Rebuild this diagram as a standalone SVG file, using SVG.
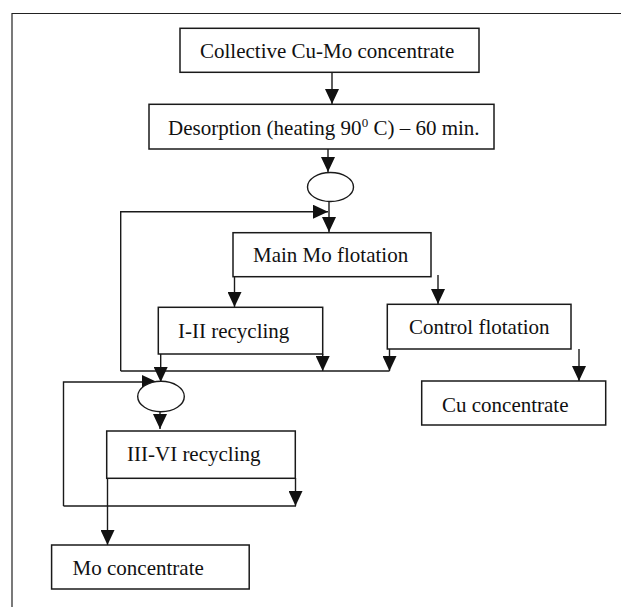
<svg xmlns="http://www.w3.org/2000/svg" width="621" height="607" viewBox="0 0 621 607">
<defs>
<marker id="ah" markerUnits="userSpaceOnUse" markerWidth="15" markerHeight="14" refX="15" refY="7" orient="auto">
<path d="M0,0 L15,7 L0,14 Z" fill="#111"/>
</marker>
<style>
.box{fill:#fff;stroke:#1a1a1a;stroke-width:1.5}
.ell{fill:#fff;stroke:#1a1a1a;stroke-width:1.4}
.t{font-family:"Liberation Serif","Times New Roman",serif;font-size:21px;fill:#111}
.c{fill:none;stroke:#1a1a1a;stroke-width:1.4}
.a{marker-end:url(#ah)}
.frame{fill:none;stroke:#222;stroke-width:1.2}
</style>
</defs>
<rect width="621" height="607" fill="#fff"/>
<path class="frame" d="M12,607 L12,13.5 L621,13.5"/>

<g id="connectors">
<line class="c a" x1="332" y1="72" x2="332" y2="104"/>
<line class="c a" x1="328" y1="149" x2="328" y2="172"/>
<line class="c a" x1="329" y1="201" x2="329" y2="232"/>
<polyline class="c a" points="120.7,371 120.7,211.7 328,211.7"/>
<line class="c a" x1="234.5" y1="276.7" x2="234.5" y2="307"/>
<line class="c a" x1="438" y1="275" x2="438" y2="304"/>
<line class="c a" x1="322.7" y1="354" x2="322.7" y2="371"/>
<line class="c a" x1="389.5" y1="349" x2="389.5" y2="371"/>
<line class="c" x1="120.7" y1="371" x2="389.5" y2="371"/>
<line class="c a" x1="160.7" y1="354" x2="160.7" y2="382"/>
<line class="c a" x1="579" y1="349" x2="579" y2="381"/>
<polyline class="c a" points="63.5,506 63.5,382 157,382"/>
<line class="c a" x1="160" y1="412" x2="160" y2="429"/>
<line class="c a" x1="295.5" y1="478" x2="295.5" y2="506"/>
<line class="c" x1="63.5" y1="506" x2="296" y2="506"/>
<line class="c a" x1="107.5" y1="478" x2="107.5" y2="545"/>
</g>

<g id="n-collective">
<rect class="box" x="180" y="28.3" width="299" height="44"/>
<text class="t" x="200" y="58.3">Collective Cu-Mo concentrate</text>
</g>
<g id="n-desorption">
<rect class="box" x="149" y="104.3" width="345" height="44.7"/>
<text class="t" x="168" y="135">Desorption (heating 90<tspan font-size="13" dy="-8">0</tspan><tspan dy="8"> C) – 60 min.</tspan></text>
</g>
<g id="n-mix1">
<ellipse class="ell" cx="330.5" cy="187" rx="23" ry="14.5"/>
</g>
<g id="n-main">
<rect class="box" x="233" y="232.7" width="198" height="44"/>
<text class="t" x="253" y="262">Main Mo flotation</text>
</g>
<g id="n-i-ii">
<rect class="box" x="158.3" y="307.3" width="164.4" height="46.7"/>
<text class="t" x="178" y="337.5">I-II recycling</text>
</g>
<g id="n-control">
<rect class="box" x="387.3" y="304.3" width="183.7" height="44.7"/>
<text class="t" x="409" y="334">Control flotation</text>
</g>
<g id="n-cu">
<rect class="box" x="421.7" y="381" width="184" height="44"/>
<text class="t" x="442" y="412">Cu concentrate</text>
</g>
<g id="n-mix2">
<ellipse class="ell" cx="161" cy="396.5" rx="23.3" ry="15.2"/>
</g>
<g id="n-iii-vi">
<rect class="box" x="106.7" y="431" width="188.6" height="47.3"/>
<text class="t" x="127" y="461">III-VI recycling</text>
</g>
<g id="n-mo">
<rect class="box" x="51.6" y="545" width="197.6" height="44"/>
<text class="t" x="72.6" y="574.5">Mo concentrate</text>
</g>
</svg>
